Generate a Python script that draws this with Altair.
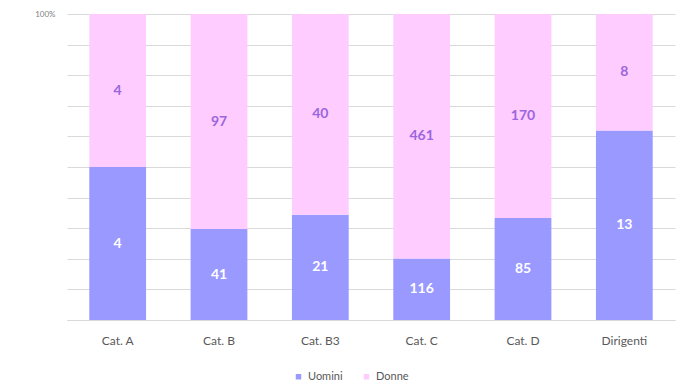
import altair as alt
import pandas as pd

categories = ["Cat. A", "Cat. B", "Cat. B3", "Cat. C", "Cat. D", "Dirigenti"]
uomini = [4, 41, 21, 116, 85, 13]
donne = [4, 97, 40, 461, 170, 8]

rows = []
for cat, u, d in zip(categories, uomini, donne):
    tot = u + d
    rows.append({"cat": cat, "genere": "Uomini", "n": u, "ord": 0,
                 "mid": u / (2 * tot)})
    rows.append({"cat": cat, "genere": "Donne", "n": d, "ord": 1,
                 "mid": u / tot + d / (2 * tot)})
df = pd.DataFrame(rows)

font = "Lato"
x_axis = alt.Axis(labelAngle=0, labelFontSize=12, labelColor="#595959",
                  labelFont=font, ticks=False, domainColor="#d9d9d9",
                  labelPadding=15, grid=False)
x_scale = alt.Scale(paddingInner=0.44, paddingOuter=0.22)
y_axis = alt.Axis(values=[round(i / 10, 1) for i in range(11)],
                  labelExpr="datum.value == 1 ? '100%' : ''",
                  labelFontSize=8, labelColor="#7f7f7f", labelFont=font,
                  ticks=False, domain=False, gridColor="#d9d9d9",
                  labelPadding=12)
y_scale = alt.Scale(domain=[0, 1])

bars = alt.Chart(df).mark_bar().encode(
    x=alt.X("cat:N", sort=categories, title=None, scale=x_scale, axis=x_axis),
    y=alt.Y("n:Q", stack="normalize", title=None, scale=y_scale, axis=y_axis),
    color=alt.Color("genere:N",
                    scale=alt.Scale(domain=["Uomini", "Donne"],
                                    range=["#9999ff", "#ffccff"]),
                    legend=alt.Legend(title=None, orient="none", direction="horizontal",
                                      legendX=226, legendY=357, symbolType="square",
                                      symbolSize=30, labelFontSize=11,
                                      labelColor="#595959", labelFont=font,
                                      columnPadding=18, symbolStrokeWidth=0)),
    order=alt.Order("ord:Q"),
)

labels = alt.Chart(df).mark_text(fontSize=14, fontWeight="bold", font=font,
                                 baseline="middle").encode(
    x=alt.X("cat:N", sort=categories, title=None, scale=x_scale, axis=x_axis),
    y=alt.Y("mid:Q", title=None, scale=y_scale, axis=y_axis),
    text=alt.Text("n:Q"),
    color=alt.Color("genere:N", scale=alt.Scale(domain=["Uomini", "Donne"],
                                                range=["#ffffff", "#9a66dd"]),
                    legend=None),
)

chart = alt.layer(bars, labels).resolve_scale(color="independent").properties(
    width=608, height=306,
    padding={"left": 67, "top": 14, "right": 5, "bottom": 67},
    autosize=alt.AutoSizeParams(type="none"),
    background="white",
).configure_view(stroke=None)

chart.save("out.html", embed_options={"renderer": "svg", "actions": False})
